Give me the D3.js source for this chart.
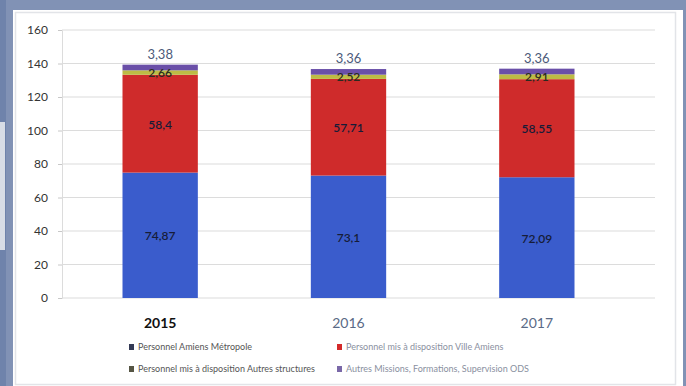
<!DOCTYPE html>
<html>
<head>
<meta charset="utf-8">
<script src="https://cdn.jsdelivr.net/npm/d3@7"></script>
<style>
  html, body { margin: 0; padding: 0; background: #8192b5; }
  svg { display: block; }
</style>
</head>
<body>
<svg id="chart" width="686" height="386"></svg>
<script>
// Effectifs par catégorie (ETP) et par année
const years = ["2015", "2016", "2017"];
const metropole = [74.87, 73.1, 72.09];
const villeAmiens = [58.4, 57.71, 58.55];
const autresStructures = [2.66, 2.52, 2.91];
const autresMissions = [3.38, 3.36, 3.36];
const yTicks = [0, 20, 40, 60, 80, 100, 120, 140, 160];
const seriesNames = [
  "Personnel Amiens Métropole",
  "Personnel mis à disposition Ville Amiens",
  "Personnel mis à disposition Autres structures",
  "Autres Missions, Formations, Supervision ODS"
];
const seriesColors = ["#3a5ccc", "#cf2b2b", "#bdbb45", "#6a4fa8"];

const svg = d3.select("#chart");
const W = 686, H = 386;

// Cadre bleu et feuille blanche
svg.append("rect").attr("width", W).attr("height", H).attr("fill", "#8192b5");
svg.append("rect").attr("x", 0).attr("y", 0).attr("width", 6).attr("height", H).attr("fill", "#6f83ab");
svg.append("rect").attr("x", 0).attr("y", 122).attr("width", 5).attr("height", 128).attr("fill", "#d8dde6");
svg.append("rect").attr("x", 13).attr("y", 10).attr("width", 670).attr("height", 376).attr("fill", "#ffffff");
svg.append("rect").attr("x", 15.5).attr("y", 12.5).attr("width", 660).attr("height", 372)
  .attr("fill", "none").attr("stroke", "#e2e4e8").attr("stroke-width", 1.5);

const fmt = v => String(v).replace(".", ",");

const x = d3.scaleBand().domain(years).range([66, 631]).paddingInner(0.6).paddingOuter(0.3);
const y = d3.scaleLinear().domain([0, 160]).range([298, 30]);

// Grille horizontale
svg.append("g").selectAll("line").data(yTicks).join("line")
  .attr("x1", 62).attr("x2", 655)
  .attr("y1", d => y(d)).attr("y2", d => y(d))
  .attr("stroke", "#dcdcdc").attr("stroke-width", 1.2);

// Axe vertical
const yAxis = d3.axisLeft(y).tickValues(yTicks).tickSize(4).tickPadding(10).tickFormat(d => d);
const gy = svg.append("g").attr("transform", "translate(62,0)").call(yAxis);
gy.select(".domain").attr("stroke", "#dcdcdc");
gy.selectAll(".tick line").attr("stroke", "#c8c8c8");
gy.selectAll(".tick text").attr("font-family", "Lato, 'DejaVu Sans', sans-serif")
  .attr("font-size", 12).attr("fill", "#333");

// Barres empilées
const table = years.map((yr, i) => ({
  year: yr, s0: metropole[i], s1: villeAmiens[i], s2: autresStructures[i], s3: autresMissions[i]
}));
const keys = ["s0", "s1", "s2", "s3"];
const stacked = d3.stack().keys(keys)(table);

const groups = svg.append("g").selectAll("g").data(stacked).join("g")
  .attr("fill", (d, i) => seriesColors[i]);
groups.selectAll("rect").data(d => d).join("rect")
  .attr("x", d => x(d.data.year))
  .attr("width", x.bandwidth())
  .attr("y", d => y(d[1]))
  .attr("height", d => y(d[0]) - y(d[1]));

// Étiquettes de valeurs
const labelFont = "Lato, 'DejaVu Sans', sans-serif";
stacked.forEach((layer, li) => {
  layer.forEach(d => {
    const cx = x(d.data.year) + x.bandwidth() / 2;
    const v = d.data[keys[li]];
    let ty, col = "#161c38";
    if (li === 3) { ty = y(d[1]) - 6; col = "#4c5a7a"; }
    else if (li === 2) { ty = y((d[0] + d[1]) / 2) + 4; col = "#2a2a20"; }
    else { ty = y((d[0] + d[1]) / 2) + 5; }
    svg.append("text").attr("x", cx).attr("y", ty).attr("text-anchor", "middle")
      .attr("font-family", labelFont).attr("font-size", li === 3 ? 13 : 12)
      .attr("font-weight", li === 3 ? "normal" : 600)
      .attr("fill", col).text(fmt(v));
  });
});

// Axe des années
years.forEach((yr, i) => {
  svg.append("text").attr("x", x(yr) + x.bandwidth() / 2).attr("y", 328)
    .attr("text-anchor", "middle").attr("font-family", labelFont).attr("font-size", 14)
    .attr("font-weight", i === 0 ? "bold" : "normal")
    .attr("fill", i === 0 ? "#111" : "#5a6a86").text(yr);
});

// Légende
const legendPos = [[129, 350], [337, 350], [129, 372], [337, 372]];
const markerColors = ["#333a55", "#d42a2a", "#555544", "#7a68a8"];
seriesNames.forEach((name, i) => {
  const [lx, ly] = legendPos[i];
  svg.append("rect").attr("x", lx).attr("y", ly - 6).attr("width", 5).attr("height", 6)
    .attr("fill", markerColors[i]);
  svg.append("text").attr("x", lx + 9).attr("y", ly).attr("font-family", labelFont)
    .attr("font-size", 9).attr("fill", i === 0 || i === 2 ? "#555" : "#8a90a0").text(name);
});
</script>
</body>
</html>
